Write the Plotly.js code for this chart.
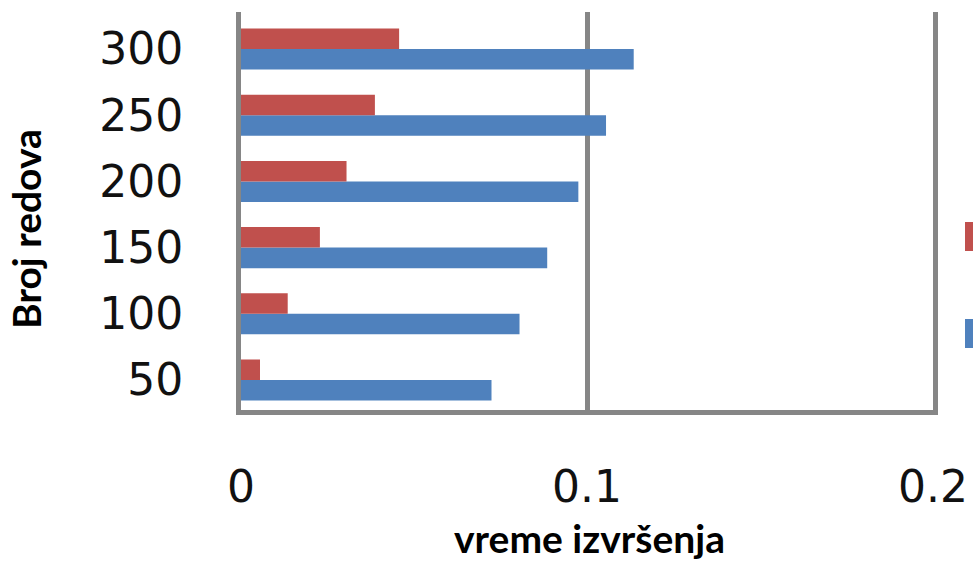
<!DOCTYPE html>
<html>
<head>
<meta charset="utf-8">
<script src="https://cdn.plot.ly/plotly-3.0.1.min.js"></script>
<style>html,body{margin:0;padding:0;background:#fff;}#chart{width:973px;height:564px;}</style>
</head>
<body>
<div id="chart"></div>
<script>
// Data
const categories = ["50", "100", "150", "200", "250", "300"];
const seriesBlue = [0.0724, 0.0805, 0.0885, 0.0975, 0.1055, 0.1135];
const seriesRed = [0.0055, 0.0135, 0.0228, 0.0305, 0.0387, 0.0457];
const xTickVals = [0, 0.1, 0.2];
const xTickText = ["0", "0.1", "0.2"];
const xTitle = "vreme izvršenja";
const yTitle = "Broj redova";

const blue = "#4F81BD";
const red = "#C0504D";
const gray = "#868686";

const traces = [
  {type: "bar", orientation: "h", y: categories, x: seriesBlue, name: "Serija 1",
   marker: {color: blue, line: {width: 0}}},
  {type: "bar", orientation: "h", y: categories, x: seriesRed, name: "Serija 2",
   marker: {color: red, line: {width: 0}}}
];

const titleFont = {family: "Lato", size: 39, color: "#000"};

const layout = {
  width: 973, height: 564,
  margin: {l: 241, r: 40, t: 12, b: 154, pad: 0},
  paper_bgcolor: "#fff", plot_bgcolor: "#fff",
  barmode: "group", bargap: 0.38, bargroupgap: 0,
  showlegend: false,
  xaxis: {
    range: [0, 0.2], tickvals: xTickVals, ticktext: xTickText,
    showgrid: true, gridcolor: gray, gridwidth: 5,
    zeroline: false,
    showline: true, linecolor: gray, linewidth: 5,
    ticks: "", ticklabelstandoff: 34,
    tickfont: {family: "DejaVu Sans", size: 44, color: "#111"}
  },
  yaxis: {
    type: "category", range: [-0.453, 5.559],
    showgrid: false, zeroline: false,
    showline: true, mirror: true, linecolor: gray, linewidth: 5,
    ticks: "", ticklabelstandoff: 44,
    tickfont: {family: "DejaVu Sans", size: 44, color: "#111"}
  },
  annotations: [
    {text: "<b>" + xTitle + "</b>", xref: "paper", yref: "paper", x: 0.5043, y: -0.3216,
     xanchor: "center", yanchor: "middle", showarrow: false, font: titleFont},
    {text: "<b>" + yTitle + "</b>", xref: "paper", yref: "paper", x: -0.3108, y: 0.4548,
     xanchor: "center", yanchor: "middle", textangle: -90, showarrow: false, font: titleFont}
  ],
  shapes: [
    {type: "rect", xref: "paper", yref: "paper", x0: 1.0462, x1: 1.075, y0: 0.3995, y1: 0.4724,
     fillcolor: red, line: {width: 0}},
    {type: "rect", xref: "paper", yref: "paper", x0: 1.0462, x1: 1.075, y0: 0.1558, y1: 0.2286,
     fillcolor: blue, line: {width: 0}}
  ]
};

Plotly.newPlot("chart", traces, layout, {staticPlot: true, displayModeBar: false});
</script>
</body>
</html>
